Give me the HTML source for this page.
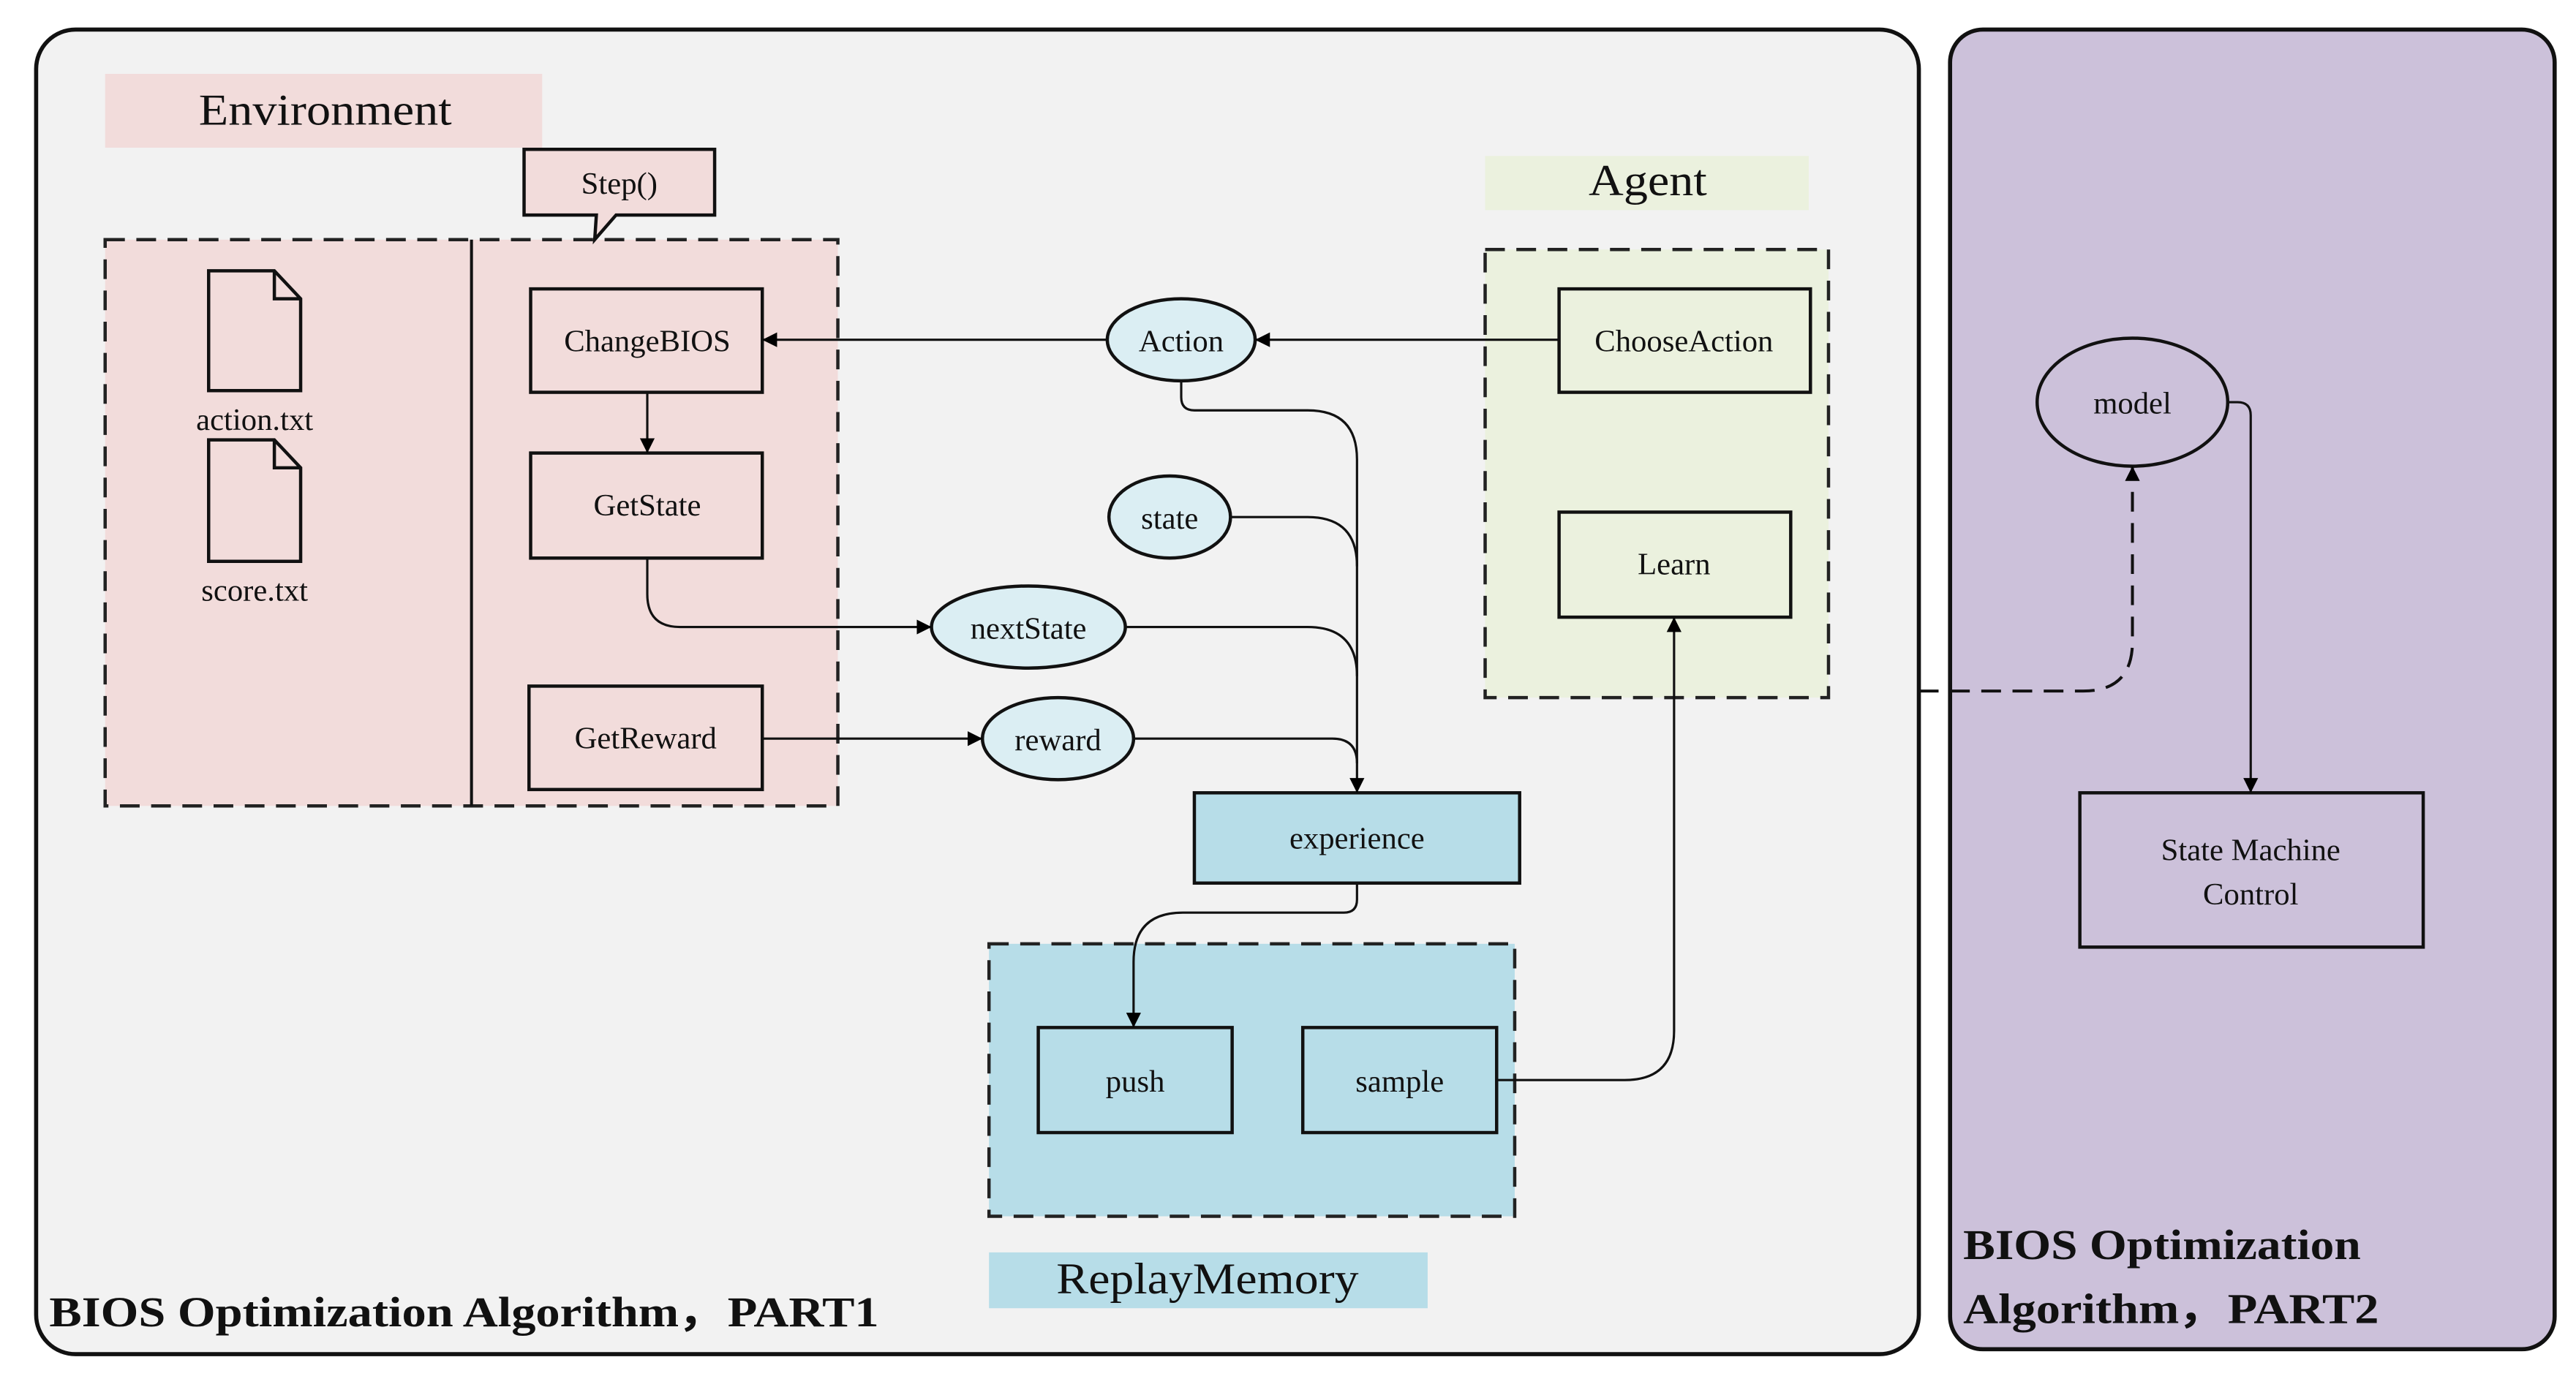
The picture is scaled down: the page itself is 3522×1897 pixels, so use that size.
<!DOCTYPE html>
<html><head><meta charset="utf-8"><style>
html,body{margin:0;padding:0;background:#fff}
svg{display:block}
text{font-family:"Liberation Serif",serif;fill:#111}
</style></head><body>
<svg width="3522" height="1897" viewBox="0 0 1568 845" preserveAspectRatio="none" xmlns="http://www.w3.org/2000/svg">
<defs>
<marker id="a" viewBox="0 0 10 10" refX="10" refY="5" markerWidth="9" markerHeight="9" markerUnits="userSpaceOnUse" orient="auto"><path d="M0,0 L10,5 L0,10 z" fill="#000"/></marker>
</defs>
<rect x="22" y="18" width="1146" height="807" rx="24" fill="#f2f2f2" stroke="#111" stroke-width="2.5"/>
<rect x="1187" y="18" width="368" height="804" rx="20" fill="#ccc1da" stroke="#111" stroke-width="2.5"/>

<rect x="64" y="45" width="266" height="45" fill="#f2dcdb"/>
<text x="121" y="76" font-size="27" textLength="154" lengthAdjust="spacingAndGlyphs">Environment</text>
<rect x="64" y="146" width="446" height="345" fill="#f2dcdb" stroke="#222" stroke-width="2" stroke-dasharray="12,7"/>
<line x1="287" y1="146" x2="287" y2="491" stroke="#111" stroke-width="1.8"/>
<path d="M319,91 H435 V131 H375 L362,146 L363,131 H319 Z" fill="#f2dcdb" stroke="#111" stroke-width="2"/>
<text x="377" y="118" font-size="19" text-anchor="middle">Step()</text>

<path d="M127,165 H167 L183,182 V238 H127 Z M167,165 V182 H183" fill="#f2dcdb" stroke="#111" stroke-width="2"/>
<text x="155" y="262" font-size="19" text-anchor="middle">action.txt</text>
<path d="M127,268 H167 L183,285 V342 H127 Z M167,268 V285 H183" fill="#f2dcdb" stroke="#111" stroke-width="2"/>
<text x="155" y="366" font-size="19" text-anchor="middle">score.txt</text>

<rect x="323" y="176" width="141" height="63" fill="#f2dcdb" stroke="#111" stroke-width="2"/>
<text x="394" y="214" font-size="19" text-anchor="middle">ChangeBIOS</text>
<rect x="323" y="276" width="141" height="64" fill="#f2dcdb" stroke="#111" stroke-width="2"/>
<text x="394" y="314" font-size="19" text-anchor="middle">GetState</text>
<rect x="322" y="418" width="142" height="63" fill="#f2dcdb" stroke="#111" stroke-width="2"/>
<text x="393" y="456" font-size="19" text-anchor="middle">GetReward</text>

<rect x="904" y="95" width="197" height="33" fill="#ebf1de"/>
<text x="967" y="119" font-size="27" textLength="72" lengthAdjust="spacingAndGlyphs">Agent</text>
<rect x="904" y="152" width="209" height="273" fill="#ebf1de" stroke="#222" stroke-width="2" stroke-dasharray="12,7"/>
<rect x="949" y="176" width="153" height="63" fill="#ebf1de" stroke="#111" stroke-width="2"/>
<text x="1025" y="214" font-size="19" text-anchor="middle">ChooseAction</text>
<rect x="949" y="312" width="141" height="64" fill="#ebf1de" stroke="#111" stroke-width="2"/>
<text x="1019" y="350" font-size="19" text-anchor="middle">Learn</text>

<rect x="602" y="575" width="320" height="166" fill="#b7dde8" stroke="#222" stroke-width="2" stroke-dasharray="12,7"/>
<rect x="632" y="626" width="118" height="64" fill="#b7dde8" stroke="#111" stroke-width="2"/>
<text x="691" y="665" font-size="19" text-anchor="middle">push</text>
<rect x="793" y="626" width="118" height="64" fill="#b7dde8" stroke="#111" stroke-width="2"/>
<text x="852" y="665" font-size="19" text-anchor="middle">sample</text>
<rect x="602" y="763" width="267" height="34" fill="#b7dde8"/>
<text x="643" y="788" font-size="27" textLength="184" lengthAdjust="spacingAndGlyphs">ReplayMemory</text>

<rect x="727" y="483" width="198" height="55" fill="#b7dde8" stroke="#111" stroke-width="2"/>
<text x="826" y="517" font-size="19" text-anchor="middle">experience</text>

<g fill="#dbeef3" stroke="#111" stroke-width="2">
<ellipse cx="719" cy="207" rx="45" ry="25"/>
<ellipse cx="712" cy="315" rx="37" ry="25"/>
<ellipse cx="626" cy="382" rx="59" ry="25"/>
<ellipse cx="644" cy="450" rx="46" ry="25"/>
</g>
<text x="719" y="214" font-size="19" text-anchor="middle">Action</text>
<text x="712" y="322" font-size="19" text-anchor="middle">state</text>
<text x="626" y="389" font-size="19" text-anchor="middle">nextState</text>
<text x="644" y="457" font-size="19" text-anchor="middle">reward</text>

<ellipse cx="1298" cy="245" rx="58" ry="39" fill="#ccc1da" stroke="#111" stroke-width="2"/>
<text x="1298" y="252" font-size="19" text-anchor="middle">model</text>
<rect x="1266" y="483" width="209" height="94" fill="#ccc1da" stroke="#111" stroke-width="2"/>
<text x="1370" y="524" font-size="19" text-anchor="middle">State Machine</text>
<text x="1370" y="551" font-size="19" text-anchor="middle">Control</text>

<g fill="none" stroke="#111" stroke-width="1.4">
<path d="M949,207 H764" marker-end="url(#a)"/>
<path d="M674,207 H464" marker-end="url(#a)"/>
<path d="M394,239 V276" marker-end="url(#a)"/>
<path d="M394,340 V362 Q394,382 414,382 H567" marker-end="url(#a)"/>
<path d="M464,450 H598" marker-end="url(#a)"/>
<path d="M719,232 V242 Q719,250 727,250 H796 Q826,250 826,280 V483" marker-end="url(#a)"/>
<path d="M749,315 H796 Q826,315 826,345"/>
<path d="M685,382 H796 Q826,382 826,412"/>
<path d="M690,450 H811 Q826,450 826,465"/>
<path d="M826,538 V548 Q826,556 818,556 H720 Q690,556 690,586 V626" marker-end="url(#a)"/>
<path d="M911,658 H989 Q1019,658 1019,628 V376" marker-end="url(#a)"/>
<path d="M1356,245 H1362 Q1370,245 1370,253 V483" marker-end="url(#a)"/>
<path d="M1168,421 H1268 Q1298,421 1298,391 V284" stroke-dasharray="12,7" stroke-width="1.8" marker-end="url(#a)"/>
</g>

<text x="30" y="808" font-size="26" font-weight="bold" textLength="505" lengthAdjust="spacingAndGlyphs">BIOS Optimization Algorithm，PART1</text>
<text x="1195" y="767" font-size="26" font-weight="bold" textLength="242" lengthAdjust="spacingAndGlyphs">BIOS Optimization</text>
<text x="1195" y="806" font-size="26" font-weight="bold" textLength="253" lengthAdjust="spacingAndGlyphs">Algorithm，PART2</text>
</svg>
</body></html>
